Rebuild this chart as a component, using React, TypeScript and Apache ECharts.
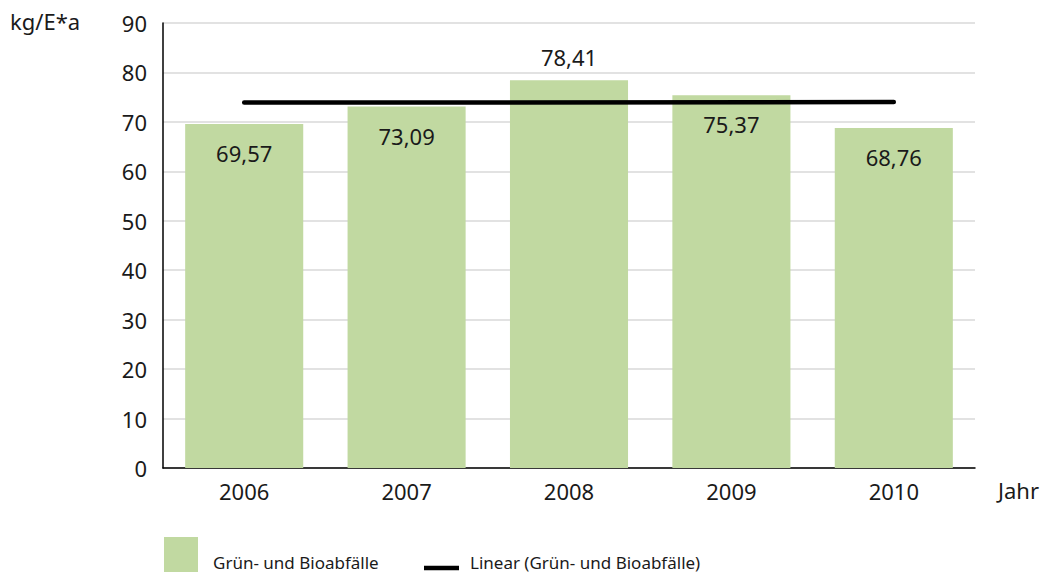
import React, { useEffect, useRef } from "react";
import * as echarts from "echarts";

const years = ["2006", "2007", "2008", "2009", "2010"];
const values = [69.57, 73.09, 78.41, 75.37, 68.76];
const trend = [73.9, null, null, null, 74.0];
const yTicks = [0, 90, 10];
const seriesName = "Grün- und Bioabfälle";
const trendName = "Linear (Grün- und Bioabfälle)";

const FONT = "'Noto Sans', 'Open Sans', sans-serif";
const TXT = "#1a1a1a";
const GREEN = "#c1d9a1";

export default function App() {
  const ref = useRef<HTMLDivElement>(null);
  useEffect(() => {
    if (!ref.current) return;
    const chart = echarts.init(ref.current, null, { renderer: "svg" });
    chart.setOption({
      animation: false,
      backgroundColor: "#ffffff",
      textStyle: { fontFamily: FONT },
      grid: { left: 163, right: 66, top: 23, bottom: 107 },
      xAxis: {
        type: "category",
        data: years,
        axisLine: { show: true, lineStyle: { color: "#000", width: 1.5 } },
        axisTick: { show: false },
        axisLabel: { color: TXT, fontSize: 22, margin: 12, fontFamily: FONT },
      },
      yAxis: {
        type: "value",
        min: yTicks[0],
        max: yTicks[1],
        interval: yTicks[2],
        axisLine: { show: true, lineStyle: { color: "#000", width: 1.5 } },
        axisTick: { show: false },
        splitLine: { lineStyle: { color: "#d9d9d9", width: 1.5 } },
        axisLabel: { color: TXT, fontSize: 22, margin: 16, fontFamily: FONT },
      },
      series: [
        {
          name: seriesName,
          type: "bar",
          data: values.map((v, i) => ({
            value: v,
            label: i === 2 ? { position: "top", distance: 12 } : undefined,
          })),
          barWidth: "72.7%",
          itemStyle: { color: GREEN },
          label: {
            show: true,
            position: "insideTop",
            distance: 18,
            color: TXT,
            fontSize: 22,
            fontFamily: FONT,
            formatter: (p: any) => p.value.toFixed(2).replace(".", ","),
          },
        },
        {
          name: trendName,
          type: "line",
          data: trend,
          connectNulls: true,
          symbol: "none",
          lineStyle: { color: "#000", width: 4.5, cap: "round" },
          z: 5,
        },
      ],
      graphic: [
        {
          type: "text",
          left: 10,
          top: 10,
          style: { text: "kg/E*a", fill: TXT, fontSize: 22, fontFamily: FONT },
        },
        {
          type: "text",
          left: 998,
          top: 479,
          style: { text: "Jahr", fill: TXT, fontSize: 22, fontFamily: FONT },
        },
        {
          type: "rect",
          shape: { x: 164, y: 537, width: 34, height: 35 },
          style: { fill: GREEN },
        },
        {
          type: "text",
          left: 213,
          top: 554,
          style: { text: seriesName, fill: TXT, fontSize: 17, fontFamily: FONT },
        },
        {
          type: "line",
          shape: { x1: 424, y1: 568, x2: 459, y2: 568 },
          style: { stroke: "#000", lineWidth: 4.5 },
        },
        {
          type: "text",
          left: 470,
          top: 554,
          style: { text: trendName, fill: TXT, fontSize: 17, fontFamily: FONT },
        },
      ],
    });
    return () => chart.dispose();
  }, []);
  return (
    <div
      ref={ref}
      style={{ position: "fixed", left: 0, top: 0, width: 1041, height: 575, background: "#fff" }}
    />
  );
}
